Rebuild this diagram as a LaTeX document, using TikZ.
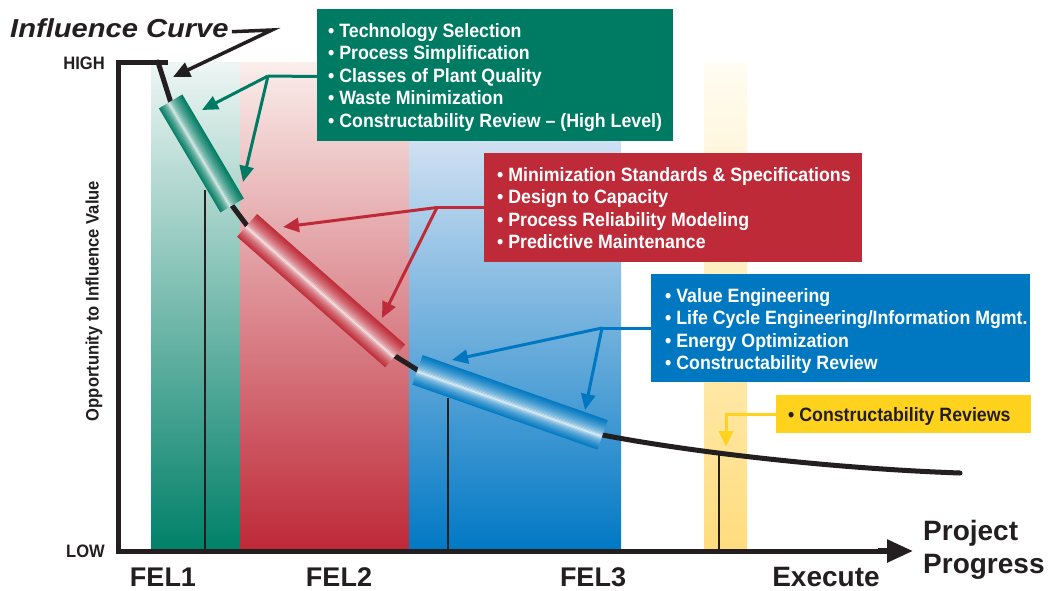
\documentclass[tikz,border=0pt]{standalone}
\usepackage{fontspec}
\setmainfont{Liberation Sans}
\newfontfamily\condfont{Liberation Sans}[FakeStretch=0.92]
\newfontfamily\widefont{Liberation Sans}[FakeStretch=1.12]
\usetikzlibrary{arrows.meta,calc}
\definecolor{ink}{RGB}{35,31,32}
\definecolor{fgreen}{RGB}{0,123,99}
\definecolor{fred}{RGB}{190,42,55}
\definecolor{fblue}{RGB}{0,120,193}
\definecolor{fyellow}{RGB}{255,210,30}
\definecolor{bgreenB}{RGB}{0,128,104}
\definecolor{bgreenT}{RGB}{238,246,244}
\definecolor{bredB}{RGB}{190,40,55}
\definecolor{bredT}{RGB}{250,238,235}
\definecolor{bblueB}{RGB}{0,120,196}
\definecolor{bblueT}{RGB}{208,224,242}
\definecolor{byellowB}{RGB}{255,220,125}
\definecolor{byellowT}{RGB}{255,252,242}
\newcommand\drawcyl[5]{%
  \foreach \i in {1,...,26}{%
    \pgfmathsetmacro\va{-#3/2 + (\i-1)*#3/26}%
    \pgfmathsetmacro\vb{-#3/2 + \i*#3/26 + 0.3}%
    \pgfmathsetmacro\tc{(\i-0.5)/26}%
    \pgfmathsetmacro\dd{\tc<#5 ? (#5-\tc)/#5 : (\tc-#5)/(1-#5)}%
    \pgfmathsetmacro\pp{100*pow(\dd,0.5)}%
    \fill[#4!\pp!white] ($(#1)!\va pt!90:(#2)$) -- ($(#1)!\vb pt!90:(#2)$) -- ($(#2)!\vb pt!-90:(#1)$) -- ($(#2)!\va pt!-90:(#1)$) -- cycle;
  }%
}
\tikzset{
  box/.style={anchor=north west, inner sep=0pt, outer sep=0pt},
  boxtext/.style={anchor=north west, inner sep=0pt, align=left, text=white,
    font=\condfont\bfseries\fontsize{19.3}{22.6}\selectfont},
  conn/.style={line width=3pt},
  tip/.style={-{Triangle[length=16pt,width=14pt]}},
  axislabel/.style={inner sep=0pt, text=ink, font=\condfont\bfseries\fontsize{18}{20}\selectfont},
  phase/.style={anchor=base, inner sep=0pt, text=ink, font=\bfseries\fontsize{27}{30}\selectfont},
  dropline/.style={ink, line width=1.5pt}
}
\begin{document}
\begin{tikzpicture}[x=1pt,y=-1pt]
\useasboundingbox (0,0) rectangle (1052,590);
\fill[white] (0,0) rectangle (1052,590);
% bands
\shade[top color=bgreenT, bottom color=bgreenB] (151,62) rectangle (240,551);
\shade[top color=bredT, bottom color=bredB] (240,62) rectangle (409,551);
\shade[top color=bblueT, bottom color=bblueB] (409,141) rectangle (621,551);
\shade[top color=byellowT, bottom color=byellowB] (704,63) rectangle (747,551);
% drop lines
\draw[dropline] (205,190) -- (205,551);
\draw[dropline] (448,398) -- (448,551);
\draw[dropline] (719,455) -- (719,551);
% axes
\draw[ink, line width=5pt, line join=miter] (168,62) -- (118,62) -- (118,551) -- (880,551);
\draw[ink, line width=5.5pt, -{Triangle[length=26pt,width=22pt]}] (878,551) -- (913,551);
% curve
\coordinate (gA) at (170.5,101.5); \coordinate (gB) at (232,205.5);
\coordinate (rA) at (247,225.5);   \coordinate (rB) at (395,356);
\coordinate (bA) at (417.5,370);   \coordinate (bB) at (602.5,435);
\draw[ink, line width=5pt, line cap=round, line join=round]
  (158,62) -- (gA) -- (gB) -- (rA) -- (rB) -- (bA) -- (bB)
  .. controls (680,450) and (820,468) .. (960,473);
% cylinders
\drawcyl{gA}{gB}{27}{fgreen}{0.42}
\drawcyl{rA}{rB}{30}{fred}{0.45}
\drawcyl{bA}{bB}{31}{fblue}{0.45}
% boxes
\node[box, fill=fgreen, minimum width=356pt, minimum height=132pt] (gbox) at (317,9) {};
\node[boxtext] (gtext) at (328,23) {• Technology Selection\\• Process Simplification\\• Classes of Plant Quality\\• Waste Minimization\\• Constructability Review – (High Level)};
\node[box, fill=fred, minimum width=378pt, minimum height=109pt] (rbox) at (484,153) {};
\node[boxtext] (rtext) at (497,167) {• Minimization Standards \& Specifications\\• Design to Capacity\\• Process Reliability Modeling\\• Predictive Maintenance};
\node[box, fill=fblue, minimum width=379pt, minimum height=108pt] (bbox) at (651,274) {};
\node[boxtext] (btext) at (665,288) {• Value Engineering\\• Life Cycle Engineering/Information Mgmt.\\• Energy Optimization\\• Constructability Review};
\node[box, fill=fyellow, minimum width=255pt, minimum height=38pt] (ybox) at (776,395) {};
\node[boxtext, anchor=base west, text=ink] (ytext) at (788,421) {• Constructability Reviews};
% connectors
\coordinate (gj) at (268,76); \coordinate (g1) at (202,110); \coordinate (g2) at (243,182);
\draw[conn, fgreen] ($(gbox.west)+(0,1.5)$) -- (gj);
\draw[conn, fgreen, tip] (gj) -- (g1);
\draw[conn, fgreen, tip] (gj) -- (g2);
\coordinate (rj) at (437,207.5); \coordinate (r1) at (283,227); \coordinate (r2) at (382,318);
\draw[conn, fred] (rbox.west) -- (rj);
\draw[conn, fred, tip] (rj) -- (r1);
\draw[conn, fred, tip] (rj) -- (r2);
\coordinate (bj) at (602,328); \coordinate (b1) at (452,360); \coordinate (b2) at (585,410);
\draw[conn, fblue] (bbox.west) -- (bj);
\draw[conn, fblue, tip] (bj) -- (b1);
\draw[conn, fblue, tip] (bj) -- (b2);
\coordinate (yj) at (726,414); \coordinate (y1) at (726,447);
\draw[conn, fyellow, tip] (ybox.west) -- (yj) -- (y1);
% title
\node[anchor=base west, inner sep=0pt, text=ink, font=\widefont\bfseries\itshape\fontsize{26}{30}\selectfont] (title) at (10,37) {Influence Curve};
\coordinate (tk) at (272,30); \coordinate (ic) at (173,77);
\draw[ink, line width=3.5pt, line join=miter, -{Triangle[length=17pt,width=15pt]}] ($(title.east)+(3,4)$) -- (tk) -- (ic);
% axis labels
\node[axislabel, anchor=east] (high) at (105,63) {HIGH};
\node[axislabel, anchor=east] (low) at (105,551) {LOW};
\node[axislabel, rotate=90] (ylab) at (94,301) {Opportunity to Influence Value};
\node[phase] (fel1) at (163,586) {FEL1};
\node[phase] (fel2) at (339,586) {FEL2};
\node[phase] (fel3) at (593,586) {FEL3};
\node[phase, font=\bfseries\fontsize{28}{30}\selectfont] (exec) at (826,586) {Execute};
\node[anchor=north west, inner sep=0pt, align=left, text=ink, font=\bfseries\fontsize{28}{33}\selectfont] (pp) at (923,520) {Project\\Progress};
\end{tikzpicture}
\end{document}
